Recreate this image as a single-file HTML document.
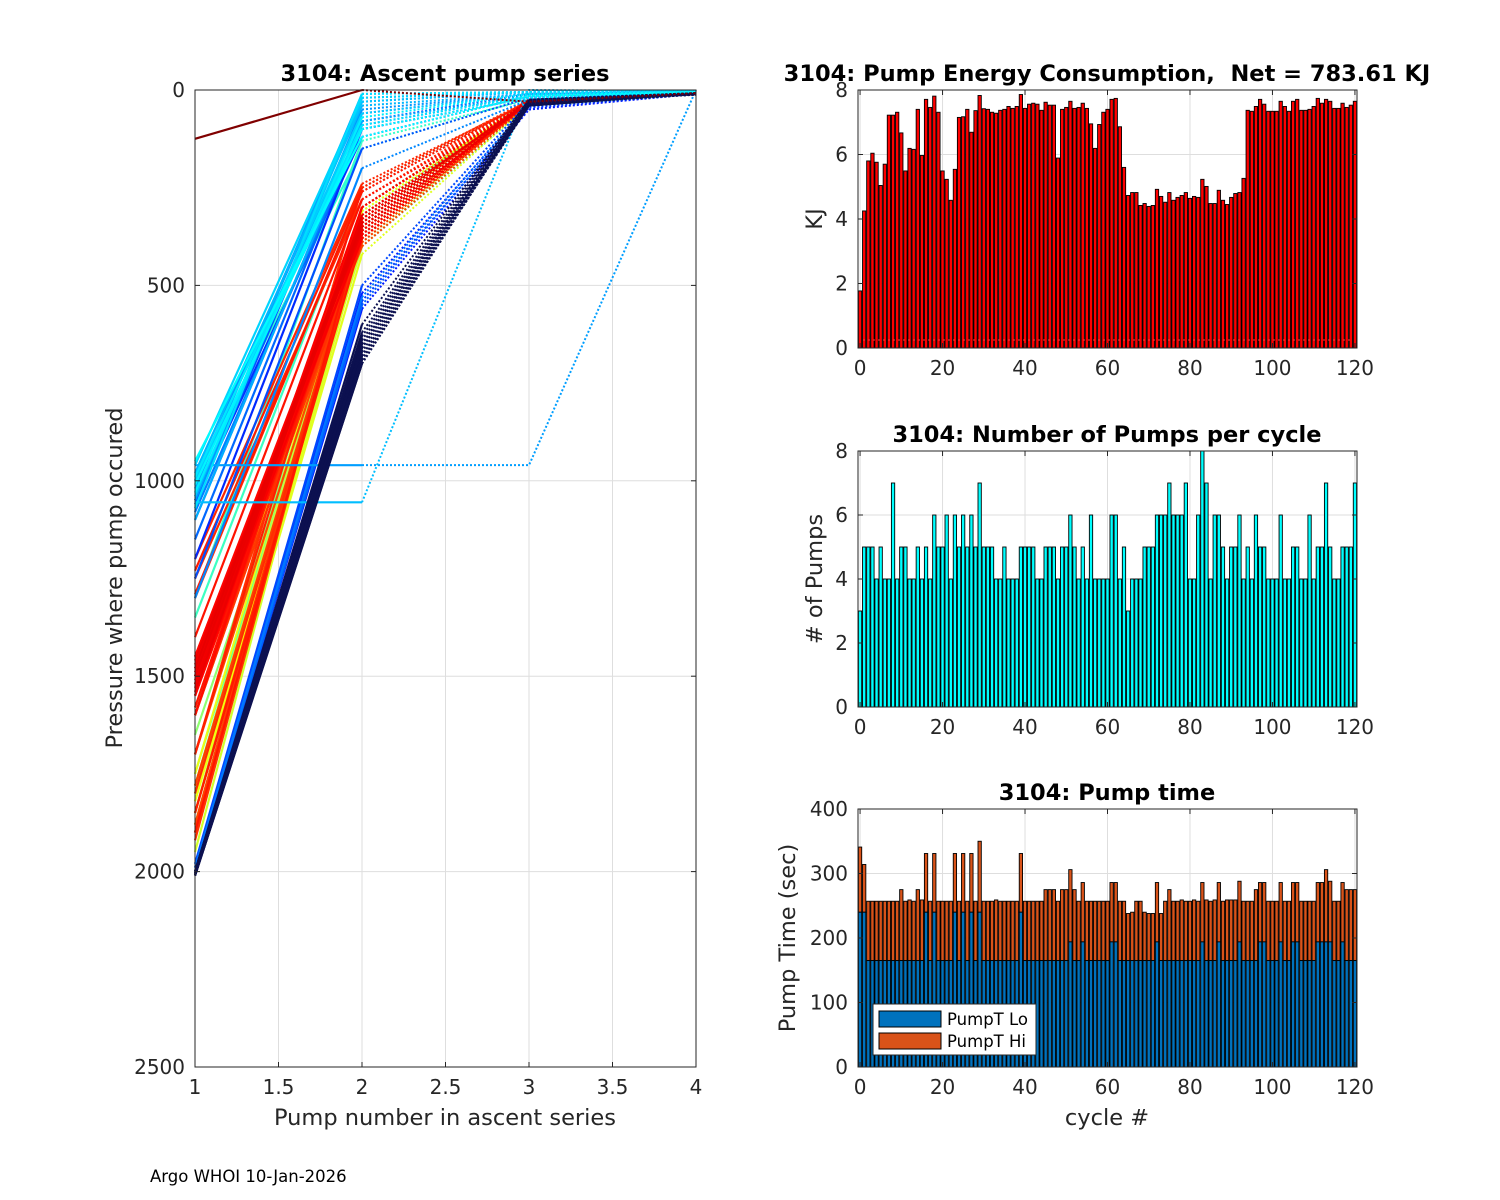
<!DOCTYPE html>
<html><head><meta charset="utf-8">
<style>
html,body{margin:0;padding:0;background:#fff;}
svg{display:block;font-family:"DejaVu Sans","Liberation Sans",sans-serif;}
.tk{font-size:20px;fill:#262626;}
.tt{font-size:22.5px;font-weight:bold;fill:#000;white-space:pre;}
.lb{font-size:22.5px;fill:#262626;}
</style></head>
<body>
<svg id="fig" width="1500" height="1200" viewBox="0 0 1500 1200">
<rect width="1500" height="1200" fill="#fff"/>
<g id="left"></g>
<g id="energy"></g>
<g id="pumps"></g>
<g id="ptime"></g>
<text x="150" y="1182" font-size="16.5" fill="#000">Argo WHOI 10-Jan-2026</text>
</svg>
<script>
// ---- data ----
const cycles = Array.from({length:121},(_, i)=>i);
const energyKJ = [1.77,4.25,5.8,6.04,5.76,5.04,5.7,7.22,7.22,7.31,6.67,5.49,6.19,6.16,7.4,5.97,7.71,7.46,7.81,7.31,5.49,5.23,4.58,5.54,7.15,7.17,7.4,6.69,7.36,7.83,7.42,7.4,7.31,7.28,7.37,7.4,7.49,7.43,7.49,7.86,7.43,7.56,7.59,7.56,7.37,7.62,7.53,7.53,5.89,7.4,7.46,7.65,7.43,7.46,7.59,7.43,6.95,6.19,6.93,7.31,7.4,7.71,7.74,6.86,5.6,4.73,4.82,4.82,4.42,4.48,4.39,4.42,4.92,4.7,4.52,4.82,4.58,4.67,4.73,4.82,4.64,4.7,4.67,5.23,5.01,4.48,4.48,4.89,4.58,4.45,4.67,4.79,4.82,5.26,7.37,7.34,7.49,7.71,7.56,7.34,7.34,7.34,7.65,7.49,7.34,7.65,7.71,7.37,7.37,7.4,7.49,7.74,7.59,7.71,7.65,7.43,7.43,7.59,7.46,7.53,7.65];
const numPumps = [3,5,5,5,4,5,4,4,7,4,5,5,4,4,5,4,5,4,6,5,5,6,4,6,5,6,5,6,5,7,5,5,5,4,4,5,4,4,4,5,5,5,5,4,4,5,5,5,4,5,5,6,5,4,5,4,6,4,4,4,4,6,6,4,5,3,4,4,4,5,5,5,6,6,6,7,6,6,6,7,4,4,6,8,7,4,6,6,5,4,5,5,6,4,5,4,6,5,5,4,4,4,6,4,4,5,5,4,4,6,4,5,5,7,5,4,4,5,5,5,7];
const pumpTLo = [240,240,165,165,165,165,165,165,165,165,165,165,165,165,165,165,240,165,240,165,165,165,165,240,165,240,165,240,165,240,165,165,165,165,165,165,165,165,165,240,165,165,165,165,165,165,165,165,165,165,165,194,165,165,194,165,165,165,165,165,165,194,194,165,165,165,165,165,165,165,165,165,194,165,165,165,165,165,165,165,165,165,165,194,165,165,165,194,165,165,165,165,194,165,165,165,165,194,194,165,165,165,194,165,165,194,194,165,165,165,165,194,194,194,194,165,165,194,165,165,165];
const pumpTTotal = [341,314,257,257,257,257,257,257,257,257,275,257,259,257,275,259,331,257,331,257,257,257,257,331,257,331,257,331,257,350,257,257,257,259,257,257,257,257,257,331,257,257,257,257,257,275,275,275,257,275,275,306,275,257,286,257,257,257,257,257,257,286,286,257,257,238,240,257,257,240,238,238,286,238,257,275,257,257,259,257,257,259,257,286,259,257,259,286,257,259,259,259,288,257,257,257,275,286,286,257,257,257,286,257,257,286,286,257,257,257,257,286,286,306,288,257,257,286,275,275,275];
const xTicksBar = [0,20,40,60,80,100,120];
const energyTicks = [0,2,4,6,8];
const pumpTicks = [0,2,4,6,8];
const timeTicks = [0,100,200,300,400];
// ascent pump pressures per cycle (pump 1..4)
const p1 = [2010,2005,2000,2010,2000,2005,2010,2000,2005,2000,2010,2005,2000,2005,2010,2000,1990,1200,1050,2000,1100,1980,1250,1060,2000,1150,1000,1990,1080,1300,1000,1050,960,1020,1100,980,1055,1040,1000,960,1070,990,1030,1010,950,1000,1300,1350,1580,1750,1800,1850,1600,1500,1780,1900,1820,1700,1650,1520,1880,1850,1600,1800,1900,1780,1850,1950,1900,1880,1750,1820,1600,1900,1850,1900,1700,1600,1550,1880,1500,1450,1780,1900,1600,1850,1920,1700,1550,1800,1300,1250,1200,1500,1600,1700,1230,1850,1290,1900,1580,1400,1450,1550,1600,1500,1520,1450,1480,1550,1510,1470,1530,1500,1490,1520,1460,1540,1500,1480,125];
const p2 = [650,680,600,700,640,660,690,620,670,650,680,700,630,660,690,560,520,100,120,540,80,500,150,60,550,90,30,530,100,200,20,50,960,10,80,40,1055,30,60,20,10,90,70,100,120,150,130,250,380,350,330,300,360,400,320,370,340,310,390,300,350,380,300,400,360,330,370,340,390,420,310,380,350,360,330,340,360,380,300,350,330,400,360,320,380,350,340,250,390,370,260,280,240,350,330,300,250,380,260,340,330,280,360,370,300,350,330,340,360,320,300,380,370,350,330,340,360,320,350,340,0];
const p3 = [30,40,25,35,30,40,30,25,35,40,30,35,30,25,40,50,40,20,15,45,10,30,20,10,40,15,5,35,20,25,5,10,960,5,15,10,0,5,10,5,5,15,10,20,15,20,25,30,35,30,25,30,35,40,30,25,30,35,30,25,30,35,30,25,30,35,30,25,30,35,30,25,30,35,30,25,30,35,30,25,30,35,30,25,30,35,30,25,30,35,30,25,30,35,30,25,30,35,30,25,30,35,30,25,30,35,30,25,30,35,30,25,30,35,30,25,30,35,30,25,30];
const p4 = [10,10,8,12,10,8,10,12,10,8,10,12,10,8,10,10,8,5,5,10,5,8,5,5,10,5,3,8,5,5,3,5,0,3,5,5,3,3,5,3,3,5,5,5,5,5,8,8,10,8,8,10,8,10,8,8,10,8,8,10,8,8,10,8,8,10,8,8,10,8,8,10,8,8,10,8,8,10,8,8,10,8,8,10,8,8,10,8,8,10,8,8,10,8,8,10,8,8,10,8,8,10,8,8,10,8,8,10,8,8,10,8,8,10,8,8,10,8,8,10,8];
const leftXTicks = [1,1.5,2,2.5,3,3.5,4];
const leftYTicks = [0,500,1000,1500,2000,2500];

const NS="http://www.w3.org/2000/svg";
function mk(parent, tag, attrs){const e=document.createElementNS(NS,tag);for(const k in attrs)e.setAttribute(k,attrs[k]);parent.appendChild(e);return e;}
function txt(parent,x,y,s,cls,anchor){const t=mk(parent,'text',{x:x,y:y,class:cls,'text-anchor':anchor||'middle'});t.textContent=s;return t;}
function jet(t){
  const r=Math.min(Math.max(Math.min(4*t-1.5,-4*t+4.5),0),1);
  const g=Math.min(Math.max(Math.min(4*t-0.5,-4*t+3.5),0),1);
  const b=Math.min(Math.max(Math.min(4*t+0.5,-4*t+2.5),0),1);
  return `rgb(${Math.round(r*255)},${Math.round(g*255)},${Math.round(b*255)})`;
}
function profColor(i){
  if(i===120) return 'rgb(128,0,0)';
  if(i<15) return 'rgb(12,16,80)';
  if(i<45) return jet(0.15+(i-15)/30*0.23);
  if(i<75) return jet(0.42+(i-45)/30*0.22);
  return jet(0.8+(i-75)/45*0.1);
}

// ---- left chart ----
(function(){
  const g=document.getElementById('left');
  const L=195,R=696,T=90,B=1067;
  const sx=v=>L+(v-1)/3*(R-L), sy=v=>T+v/2500*(B-T);
  leftXTicks.forEach(v=>{
    const l=mk(g,'line',{x1:sx(v),x2:sx(v),y1:T,y2:B,stroke:'#dedede','stroke-width':1});
    
    
  });
  leftYTicks.forEach(v=>{
    const l=mk(g,'line',{x1:L,x2:R,y1:sy(v),y2:sy(v),stroke:'#dedede','stroke-width':1});
    
    
  });
  const order=[];
  for(let i=45;i<120;i++) order.push(i);
  for(let i=15;i<45;i++) order.push(i);
  for(let i=0;i<15;i++) order.push(i);
  order.push(120);
  order.forEach(i=>{
    const col=profColor(i);
    const s=mk(g,'line',{x1:sx(1),y1:sy(p1[i]),x2:sx(2),y2:sy(p2[i]),stroke:col,'stroke-width':2.2});
    
    
    const d=`M${sx(2)},${sy(p2[i])}L${sx(3)},${sy(p3[i])}L${sx(4)},${sy(p4[i])}`;
    const dp=mk(g,'path',{d:d,fill:'none',stroke:col,'stroke-width':2,'stroke-dasharray':'2,2'});
    
    
  });
  mk(g,'rect',{x:L,y:T,width:R-L,height:B-T,fill:'none',stroke:'#262626','stroke-width':1});
  leftYTicks.forEach(v=>{
    mk(g,'line',{x1:L,x2:L+5,y1:sy(v),y2:sy(v),stroke:'#262626'});
    mk(g,'line',{x1:R,x2:R-5,y1:sy(v),y2:sy(v),stroke:'#262626'});
    const t=txt(g,L-10,sy(v)+7,String(v),'tk','end');
    
    
  });
  leftXTicks.forEach(v=>{
    mk(g,'line',{x1:sx(v),x2:sx(v),y1:B,y2:B-5,stroke:'#262626'});
    const t=txt(g,sx(v),B+27,String(v),'tk');
    
    
  });
  const ti=txt(g,445,81,'3104: Ascent pump series','tt');
  
  
  const xl=txt(g,445,1125,'Pump number in ascent series','lb');
  
  
  const yl=txt(g,0,0,'Pressure where pump occured','lb');
  yl.setAttribute('transform','translate(122,578) rotate(-90)');
  
  
})();

// ---- bar chart helper ----
function barAxes(g,T,B,ymax,yTicks,title,ylabel,ylx){
  const L=858,R=1357;
  const sx=v=>L+(v+0.5)/121*(R-L), sy=v=>B-v/ymax*(B-T);
  xTicksBar.forEach(v=>{
    const l=mk(g,'line',{x1:sx(v),x2:sx(v),y1:T,y2:B,stroke:'#dedede'});
    
    
  });
  yTicks.forEach(v=>{
    const l=mk(g,'line',{x1:L,x2:R,y1:sy(v),y2:sy(v),stroke:'#dedede'});
    
    
  });
  return {L,R,sx,sy,finish:function(){
    mk(g,'rect',{x:L,y:T,width:R-L,height:B-T,fill:'none',stroke:'#262626'});
    yTicks.forEach(v=>{
      mk(g,'line',{x1:L,x2:L+5,y1:sy(v),y2:sy(v),stroke:'#262626'});
      mk(g,'line',{x1:R,x2:R-5,y1:sy(v),y2:sy(v),stroke:'#262626'});
      const t=txt(g,L-10,sy(v)+7,String(v),'tk','end');
      
      
    });
    xTicksBar.forEach(v=>{
      mk(g,'line',{x1:sx(v),x2:sx(v),y1:B,y2:B-5,stroke:'#262626'});
      mk(g,'line',{x1:sx(v),x2:sx(v),y1:T,y2:T+5,stroke:'#262626'});
      const t=txt(g,sx(v),B+27,String(v),'tk');
      
      
    });
    const ti=txt(g,1107,T-9,title,'tt');
    
    
    const yl=txt(g,0,0,ylabel,'lb');
    yl.setAttribute('transform',`translate(${ylx},${(T+B)/2}) rotate(-90)`);
    
    
  }};
}
const BW=3.3;
// energy
(function(){
  const g=document.getElementById('energy');
  const a=barAxes(g,90,348,8,energyTicks,'3104: Pump Energy Consumption,\u00A0\u00A0Net = 783.61 KJ','KJ',822);
  cycles.forEach((c,i)=>{
    const r=mk(g,'rect',{x:a.sx(c)-BW/2,y:a.sy(energyKJ[i]),width:BW,height:a.sy(0)-a.sy(energyKJ[i]),fill:'#ff0000',stroke:'#000','stroke-width':0.9});
    
    
  });
  mk(g,'line',{x1:a.L+5,x2:a.R-5,y1:a.sy(0.25),y2:a.sy(0.25),stroke:'#ff4040','stroke-width':1,'stroke-dasharray':'2,3'});
  a.finish();
})();
// pumps
(function(){
  const g=document.getElementById('pumps');
  const a=barAxes(g,451,707,8,pumpTicks,'3104: Number of Pumps per cycle','# of Pumps',822);
  cycles.forEach((c,i)=>{
    const r=mk(g,'rect',{x:a.sx(c)-BW/2,y:a.sy(numPumps[i]),width:BW,height:a.sy(0)-a.sy(numPumps[i]),fill:'#00ffff',stroke:'#000','stroke-width':0.9});
    
    
  });
  a.finish();
})();
// pump time
(function(){
  const g=document.getElementById('ptime');
  const a=barAxes(g,809,1067,400,timeTicks,'3104: Pump time','Pump Time (sec)',795);
  cycles.forEach((c,i)=>{
    const hi=mk(g,'rect',{x:a.sx(c)-BW/2,y:a.sy(pumpTTotal[i]),width:BW,height:a.sy(pumpTLo[i])-a.sy(pumpTTotal[i]),fill:'#d95319',stroke:'#000','stroke-width':0.9});
    
    
    const lo=mk(g,'rect',{x:a.sx(c)-BW/2,y:a.sy(pumpTLo[i]),width:BW,height:a.sy(0)-a.sy(pumpTLo[i]),fill:'#0072bd',stroke:'#000','stroke-width':0.9});
    
    
  });
  a.finish();
  const xl=txt(g,1107,1125,'cycle #','lb');
  
  
  const lg=mk(g,'g',{});
  
  
  mk(lg,'rect',{x:873,y:1004,width:163,height:51,fill:'#fff',stroke:'#262626'});
  mk(lg,'rect',{x:879,y:1011,width:62,height:16,fill:'#0072bd',stroke:'#000'});
  mk(lg,'rect',{x:879,y:1033,width:62,height:16,fill:'#d95319',stroke:'#000'});
  const e1=txt(lg,947,1025,'PumpT Lo','tk','start');e1.style.fontSize='16.5px';e1.style.fill='#000';
  
  
  const e2=txt(lg,947,1047,'PumpT Hi','tk','start');e2.style.fontSize='16.5px';e2.style.fill='#000';
  
  
})();
</script>
</body></html>
